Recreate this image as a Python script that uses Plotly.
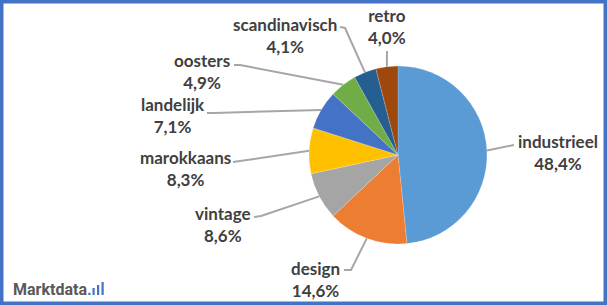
import math
import plotly.graph_objects as go

W, H = 607, 305

# ---- data ----
categories = ["industrieel", "design", "vintage", "marokkaans", "landelijk",
              "oosters", "scandinavisch", "retro"]
values = [48.4, 14.6, 8.6, 8.3, 7.1, 4.9, 4.1, 4.0]
value_labels = ["48,4%", "14,6%", "8,6%", "8,3%", "7,1%", "4,9%", "4,1%", "4,0%"]
colors = ["#5B9BD5", "#ED7D31", "#A5A5A5", "#FFC000", "#4472C4",
          "#70AD47", "#255E91", "#9E480E"]

# ---- layout (pixel positions of labels and leader knees) ----
label_pos = [(558, 152), (315, 279), (223, 224), (185, 168), (173, 116),
             (202, 71), (285, 35), (387, 26)]
leader_start = [(514, 145), (344, 270), (254, 217), (233, 162), (207, 113),
                (234, 65), (340, 27), (387, 51)]
leader_knee = [(514, 145), (351, 270), (261, 216), (240, 161), (214, 113),
               (240, 65), (345, 28), (387, 51)]

# pie geometry in pixels
CX, CY, R = 398, 155, 89


def px(x):
    return x / W


def py(y):
    return 1 - y / H


fig = go.Figure()
fig.add_trace(go.Pie(
    labels=categories,
    values=values,
    sort=False,
    direction="clockwise",
    rotation=0,
    marker=dict(colors=colors, line=dict(color="rgba(255,255,255,0.35)", width=0.5)),
    textinfo="none",
    hoverinfo="label+percent",
    showlegend=False,
    domain=dict(x=[px(CX - R), px(CX + R)], y=[py(CY + R), py(CY - R)]),
))

shapes = []
annotations = []
total = sum(values)
cum = 0.0
for i, v in enumerate(values):
    mid = (cum + v / 2) / total * 2 * math.pi
    cum += v
    ex = CX + R * math.sin(mid)
    ey = CY - R * math.cos(mid)
    sx, sy = leader_start[i]
    kx, ky = leader_knee[i]
    path = f"M {px(sx)} {py(sy)} L {px(kx)} {py(ky)} L {px(ex)} {py(ey)}"
    shapes.append(dict(type="path", path=path, xref="paper", yref="paper",
                       line=dict(color="#A6A6A6", width=2), layer="below"))
    lx, ly = label_pos[i]
    annotations.append(dict(
        x=px(lx), y=py(ly), xref="paper", yref="paper",
        text=f"<b>{categories[i]}</b><br><b>{value_labels[i]}</b>",
        showarrow=False, align="center", xanchor="center", yanchor="middle",
        font=dict(family="Lato", size=17, color="#404040"),
    ))

# logo
annotations.append(dict(
    x=px(11), y=py(289), xref="paper", yref="paper", xanchor="left", yanchor="middle",
    text="<b>Marktdata</b><span style='color:#4472C4'><b>.</b></span>",
    showarrow=False, font=dict(family="Roboto", size=16, color="#595959"),
))
for bx, bh in [(92.5, 7), (97, 10), (101.5, 13)]:
    shapes.append(dict(type="rect", xref="paper", yref="paper",
                       x0=px(bx), x1=px(bx + 2.2), y0=py(295), y1=py(295 - bh),
                       fillcolor="#4472C4", line=dict(width=0)))

# frame
shapes.append(dict(type="rect", xref="paper", yref="paper", x0=0, y0=0, x1=1, y1=1,
                   line=dict(color="#4472C4", width=7)))

fig.update_layout(
    width=W, height=H,
    margin=dict(l=0, r=0, t=0, b=0),
    paper_bgcolor="white", plot_bgcolor="white",
    shapes=shapes, annotations=annotations,
)

fig.write_html("out.html")
